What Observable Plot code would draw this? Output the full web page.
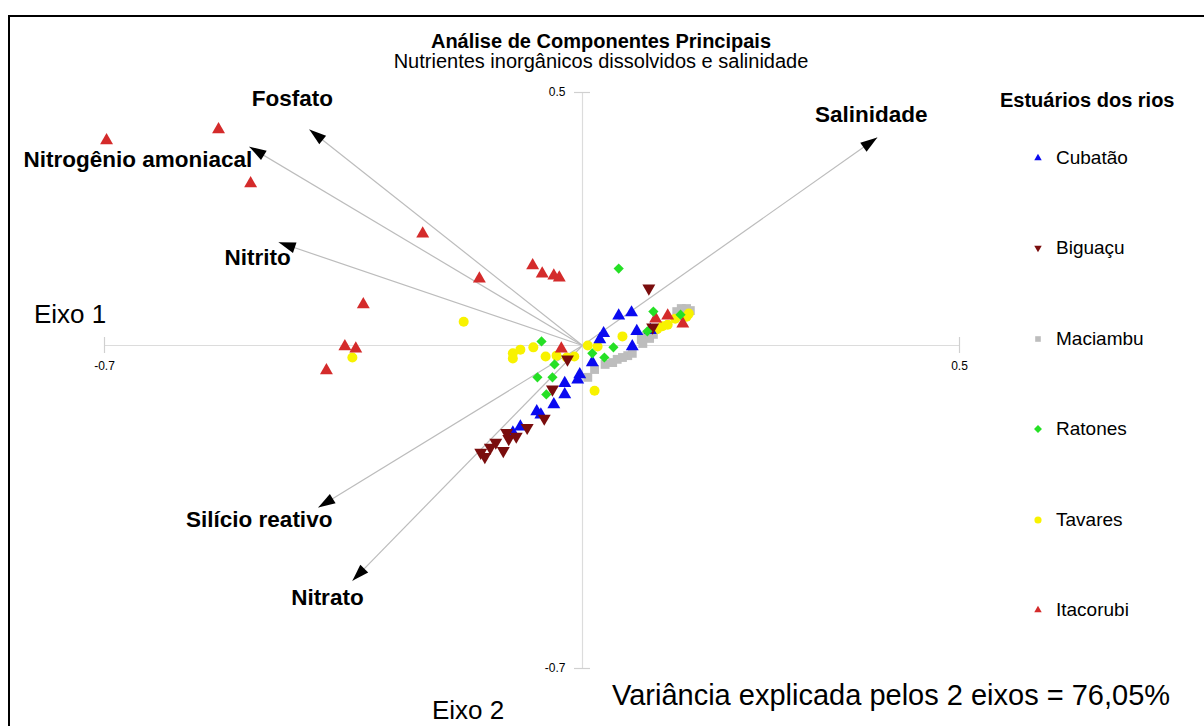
<!DOCTYPE html>
<html>
<head>
<meta charset="utf-8">
<script src="https://cdn.jsdelivr.net/npm/d3@7"></script>
<script src="https://cdn.jsdelivr.net/npm/@observablehq/plot@0.6"></script>
<style>
  body { margin: 0; background: #fff; font-family: "Liberation Sans", Arial, sans-serif; }
  #wrap { position: relative; width: 1204px; height: 726px; overflow: hidden; background: #fff; }
  #chart { position: absolute; left: 0; top: 0; width: 1204px; height: 726px; }
  #frame { position: absolute; left: 8px; top: 15px; width: 1300px; height: 800px; border-top: 2px solid #000; border-left: 2px solid #000; pointer-events: none; }
  .t { position: absolute; white-space: nowrap; color: #000; line-height: 1; }
  #legend { position: absolute; left: 1000px; top: 89px; }
  .leg-title { font-weight: bold; font-size: 20px; line-height: 22px; white-space: nowrap; }
  .leg-item { position: absolute; left: 32px; height: 22px; display: flex; align-items: center; font-size: 19px; white-space: nowrap; }
  .leg-item svg { margin-right: 12px; }
</style>
</head>
<body>
<div id="wrap">
  <div id="chart"></div>
  <div id="frame"></div>
  <div class="t" id="title" style="left:601px;top:31px;transform:translateX(-50%);font-weight:bold;font-size:20px;"></div>
  <div class="t" id="subtitle" style="left:601px;top:51px;transform:translateX(-50%);font-size:20px;"></div>
  <div class="t" id="eixo1" style="left:34px;top:301px;font-size:26px;"></div>
  <div class="t" id="eixo2" style="left:432px;top:697px;font-size:26px;"></div>
  <div class="t" id="variancia" style="left:612px;top:681px;font-size:29px;"></div>
  <div id="legend"></div>
</div>
<script>
// ---------- texts ----------
const titleText = "Análise de Componentes Principais";
const subtitleText = "Nutrientes inorgânicos dissolvidos e salinidade";
const axis1Label = "Eixo 1";
const axis2Label = "Eixo 2";
const varianceText = "Variância explicada pelos 2 eixos = 76,05%";
const legendTitle = "Estuários dos rios";

// ---------- categories ----------
const estuaries = ["Cubatão", "Biguaçu", "Maciambu", "Ratones", "Tavares", "Itacorubi"];

// ---------- scores (eixo 1, eixo 2) ----------
const cubatao = [[0.048,0.059],[0.065,0.065],[0.028,0.024],[0.023,0.012],[0.072,0.028],[0.066,-0.002],[0.013,-0.037],[-0.004,-0.063],[-0.007,-0.074],[-0.026,-0.082],[-0.026,-0.106],[-0.042,-0.128],[-0.067,-0.143],[-0.061,-0.150],[-0.091,-0.176],[-0.102,-0.189],[0.090,0.030]];
const biguacu = [[0.088,0.113],[-0.044,-0.095],[-0.056,-0.158],[-0.081,-0.178],[-0.097,-0.197],[-0.111,-0.189],[-0.108,-0.202],[-0.127,-0.210],[-0.135,-0.221],[-0.149,-0.232],[-0.143,-0.241],[-0.116,-0.228],[-0.022,-0.030],[0.093,0.036]];
const maciambu = [[0.007,-0.069],[0.016,-0.052],[0.030,-0.041],[0.040,-0.037],[0.046,-0.030],[0.053,-0.026],[0.060,-0.022],[0.066,-0.017],[0.078,0.012],[0.084,0.018],[0.089,0.014],[0.094,0.022],[0.080,0.004],[0.125,0.067],[0.131,0.073],[0.138,0.073],[0.143,0.069],[0.129,0.059],[0.135,0.063]];
const ratones = [[0.048,0.152],[-0.060,0.008],[-0.041,-0.041],[-0.066,-0.069],[-0.044,-0.069],[-0.053,-0.106],[0.013,-0.017],[0.029,-0.026],[0.041,-0.004],[0.094,0.067],[0.086,0.028],[0.130,0.061]];
const tavares = [[-0.174,0.047],[-0.337,-0.026],[-0.102,-0.017],[-0.102,-0.028],[-0.091,-0.009],[-0.072,-0.004],[-0.054,-0.024],[-0.038,-0.022],[-0.023,-0.026],[-0.012,-0.024],[0.007,0],[0.020,-0.002],[0.053,0.018],[0.016,-0.098],[0.099,0.032],[0.106,0.038],[0.113,0.041],[0.123,0.053],[0.141,0.063],[0.138,0.057]];
const itacorubi = [[-0.697,0.405],[-0.533,0.427],[-0.486,0.320],[-0.234,0.221],[-0.151,0.132],[-0.073,0.158],[-0.059,0.142],[-0.042,0.138],[-0.034,0.134],[-0.321,0.081],[-0.348,-0.002],[-0.332,-0.007],[-0.375,-0.054],[-0.031,-0.007],[0.097,0.053],[0.113,0.059],[0.133,0.043]];
const seriesValues = [cubatao, biguacu, maciambu, ratones, tavares, itacorubi];

// ---------- variable loadings (arrows) ----------
const variables = ["Salinidade", "Fosfato", "Nitrogênio amoniacal", "Nitrito", "Silício reativo", "Nitrato"];
const loadingX = [0.391, -0.400, -0.488, -0.445, -0.387, -0.337];
const loadingY = [0.411, 0.427, 0.393, 0.204, -0.351, -0.510];

// ---------- tick labels ----------
const xTicks = [-0.7, 0.5];
const yTicks = [-0.7, 0.5];

// ---------- styles ----------
const colors = ["#0a0af0", "#7a0d0d", "#bdbdbd", "#25e025", "#f8f200", "#d42b2b"];
const symbols = ["triangle", "triangle", "square", "diamond2", "circle", "triangle"];
const symbolRotation = [0, 180, 0, 0, 0, 0];
const symbolRadius = [4.8, 4.8, 5, 4.6, 5, 4.8];
const labelStyle = [
  {dx: -6, dy: -23, anchor: "middle"},
  {dx: -17, dy: -31, anchor: "middle"},
  {dx: 3, dy: 13, anchor: "end"},
  {dx: -21, dy: 16, anchor: "middle"},
  {dx: -59, dy: 12, anchor: "middle"},
  {dx: -25, dy: 17, anchor: "middle"}
];
// the two half-axes are drawn with unequal lengths (pixels per half-axis)
const xHalf = {neg: 478, pos: 377};
const yHalf = {neg: 323, pos: 253};
const xWarp = v => v < 0 ? v / 0.7 * xHalf.neg : v / 0.5 * xHalf.pos;
const yWarp = v => v < 0 ? v / 0.7 * yHalf.neg : v / 0.5 * yHalf.pos;

const points = [];
seriesValues.forEach((arr, i) => arr.forEach(([x, y]) => points.push({estuary: estuaries[i], x, y, rot: symbolRotation[i], r: symbolRadius[i]})));

const loadings = variables.map((name, i) => {
  const dx = xWarp(loadingX[i]), dy = -yWarp(loadingY[i]);
  return {name, x: loadingX[i], y: loadingY[i], angle: Math.atan2(dx, -dy) * 180 / Math.PI};
});

const arrowHead = {
  draw(ctx) {
    ctx.moveTo(0, 0);
    ctx.lineTo(5.5, 17);
    ctx.lineTo(-5.5, 17);
    ctx.closePath();
  }
};

const marks = [
  Plot.ruleY([0], {x1: xTicks[0], x2: xTicks[1], stroke: "#dcdcdc", strokeWidth: 1.2}),
  Plot.ruleX([0], {y1: yTicks[0], y2: yTicks[1], stroke: "#dcdcdc", strokeWidth: 1.2}),
  Plot.ruleX(xTicks, {x: d => d, y1: 0, y2: 0, insetTop: -8, insetBottom: -8, stroke: "#d0d0d0", strokeWidth: 1.2}),
  Plot.ruleY(yTicks, {y: d => d, x1: 0, x2: 0, insetLeft: -8, insetRight: -8, stroke: "#d0d0d0", strokeWidth: 1.2}),
  Plot.text(xTicks, {x: d => d, y: 0, text: d => String(d), dy: 21, fontSize: 12, fill: "#000"}),
  Plot.text(yTicks, {x: 0, y: d => d, text: d => String(d), dx: -17, textAnchor: "end", fontSize: 12, fill: "#000"}),
  Plot.link(loadings, {x1: 0, y1: 0, x2: d => d.x, y2: d => d.y, stroke: "#bcbcbc", strokeWidth: 1.2}),
  Plot.dot(points, {x: d => d.x, y: d => d.y, symbol: d => d.estuary, fill: d => d.estuary, rotate: d => d.rot, r: d => d.r, stroke: "none"}),
  Plot.dot(loadings, {x: d => d.x, y: d => d.y, symbol: arrowHead, rotate: d => d.angle, fill: "#000", stroke: "none", r: 5}),
  ...loadings.map((d, i) => Plot.text([d], {
    x: d => d.x, y: d => d.y, text: d => d.name, dx: labelStyle[i].dx, dy: labelStyle[i].dy,
    textAnchor: labelStyle[i].anchor, fontWeight: "bold", fontSize: 22.5, fill: "#000"
  }))
];

const chart = Plot.plot({
  width: 1204,
  height: 726,
  margin: 0,
  x: {type: "linear", transform: xWarp, range: [104, 959], axis: null},
  y: {type: "linear", transform: yWarp, range: [668, 92], axis: null},
  r: {type: "identity"},
  symbol: {domain: estuaries, range: symbols},
  color: {type: "ordinal", domain: estuaries, range: colors},
  style: {background: "transparent", fontFamily: "'Liberation Sans', Arial, sans-serif", overflow: "visible"},
  marks
});
document.getElementById("chart").appendChild(chart);

// ---------- texts ----------
document.getElementById("title").textContent = titleText;
document.getElementById("subtitle").textContent = subtitleText;
document.getElementById("eixo1").textContent = axis1Label;
document.getElementById("eixo2").textContent = axis2Label;
document.getElementById("variancia").textContent = varianceText;

// ---------- legend ----------
const legend = document.getElementById("legend");
const lt = document.createElement("div");
lt.className = "leg-title";
lt.textContent = legendTitle;
legend.appendChild(lt);
const d3Symbols = {triangle: d3.symbolTriangle2, square: d3.symbolSquare2, diamond2: d3.symbolDiamond2, circle: d3.symbolCircle};
estuaries.forEach((name, i) => {
  const item = document.createElement("div");
  item.className = "leg-item";
  item.style.top = (58 + i * 90.4) + "px";
  const ns = "http://www.w3.org/2000/svg";
  const svg = document.createElementNS(ns, "svg");
  svg.setAttribute("width", 12); svg.setAttribute("height", 12);
  const p = document.createElementNS(ns, "path");
  p.setAttribute("d", d3.symbol(d3Symbols[symbols[i]], 40)());
  p.setAttribute("transform", `translate(6,6) rotate(${symbolRotation[i]})`);
  p.setAttribute("fill", colors[i]);
  svg.appendChild(p);
  item.appendChild(svg);
  const s = document.createElement("span");
  s.textContent = name;
  item.appendChild(s);
  legend.appendChild(item);
});
</script>
</body>
</html>
